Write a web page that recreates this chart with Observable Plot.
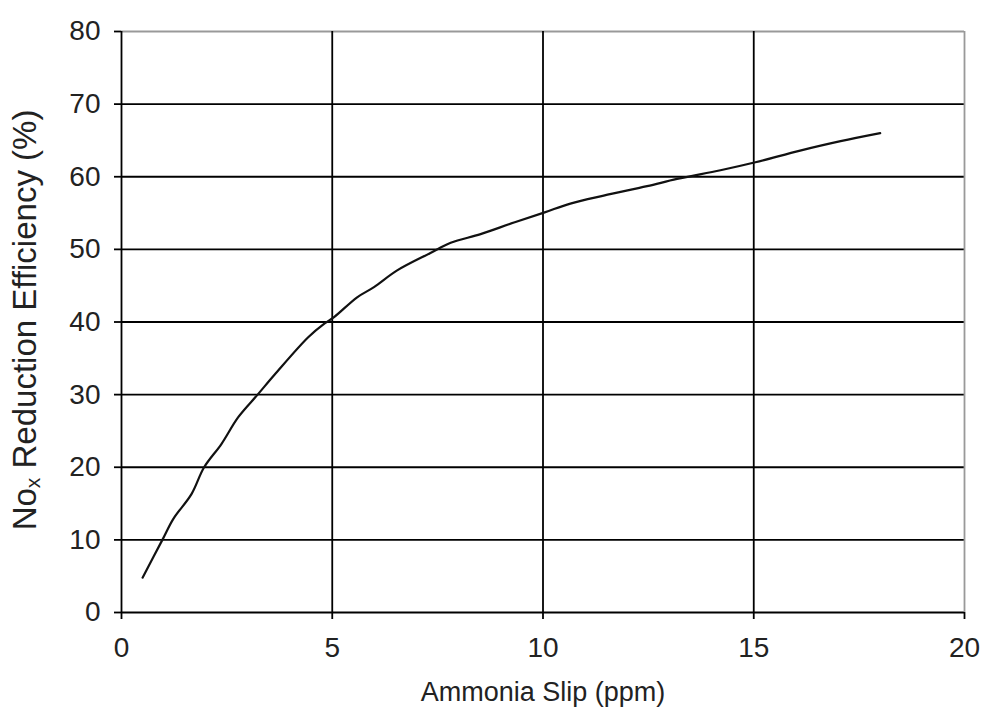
<!DOCTYPE html>
<html>
<head>
<meta charset="utf-8">
<script src="https://cdn.jsdelivr.net/npm/d3@7"></script>
<script src="https://cdn.jsdelivr.net/npm/@observablehq/plot@0.6"></script>
<style>
  html, body { margin: 0; padding: 0; background: #fff; }
  #chart { width: 982px; height: 707px; }
</style>
</head>
<body>
<div id="chart"></div>
<script>
// Data
const ammoniaSlip = [0.5, 0.97, 1.23, 1.66, 1.96, 2.37, 2.77, 3.23, 3.64, 4.43, 4.82, 5.05, 5.59, 5.99, 6.54, 7.33, 7.81, 8.52, 9.31, 10.04, 10.65, 11.44, 12.47, 13.18, 14.21, 15.04, 16.1, 17.06, 18.0];
const noxEfficiency = [4.8, 10, 12.9, 16.3, 20, 23.2, 26.9, 30, 32.8, 37.9, 39.8, 40.7, 43.4, 44.8, 47.1, 49.5, 50.9, 52.1, 53.7, 55.1, 56.3, 57.4, 58.7, 59.7, 60.9, 62.0, 63.6, 64.9, 66.0];
const xTicks = [0, 5, 10, 15, 20];
const yTicks = [0, 10, 20, 30, 40, 50, 60, 70, 80];
const xLabel = "Ammonia Slip (ppm)";
const yLabelParts = ["No", "x", " Reduction Efficiency (%)"];

const data = ammoniaSlip.map((x, i) => ({x, y: noxEfficiency[i]}));
const font = "'Liberation Sans', Arial, sans-serif";

const chart = Plot.plot({
  width: 982,
  height: 707,
  marginLeft: 121,
  marginRight: 18,
  marginTop: 31,
  marginBottom: 95,
  style: {fontFamily: font, color: "#222", background: "#fff"},
  x: {domain: [0, 20]},
  y: {domain: [0, 80]},
  marks: [
    Plot.ruleY(yTicks.filter(d => d < 80), {stroke: "#000", strokeWidth: 1.8}),
    Plot.ruleY([80], {stroke: "#999", strokeWidth: 1.8}),
    Plot.ruleX([5, 10, 15], {stroke: "#000", strokeWidth: 1.8}),
    Plot.ruleX([20], {stroke: "#999", strokeWidth: 1.8}),
    Plot.ruleX([0], {stroke: "#000", strokeWidth: 1.8}),
    Plot.axisY({ticks: yTicks, tickSize: 7, tickPadding: 14, fontSize: 28, label: null, strokeWidth: 1.8, stroke: "#000"}),
    Plot.axisX({ticks: xTicks, tickSize: 7, tickPadding: 18, fontSize: 28, label: null, strokeWidth: 1.8, stroke: "#000"}),
    Plot.line(data, {x: "x", y: "y", stroke: "#111", strokeWidth: 2.2, curve: "catmull-rom"}),
    Plot.text([xLabel], {frameAnchor: "bottom", dy: 88, lineAnchor: "bottom", fontSize: 27, fill: "#222"})
  ]
});

document.getElementById("chart").appendChild(chart);

// y-axis label with subscript
const svg = d3.select(chart.tagName.toLowerCase() === "svg" ? chart : chart.querySelector("svg"));
const t = svg.append("text")
  .attr("transform", "translate(36,320) rotate(-90)")
  .attr("text-anchor", "middle")
  .attr("font-family", font)
  .attr("font-size", 33)
  .attr("fill", "#222");
t.append("tspan").text(yLabelParts[0]);
t.append("tspan").attr("font-size", 21).attr("dy", 4).text(yLabelParts[1]);
t.append("tspan").attr("dy", -4).text(yLabelParts[2]);
</script>
</body>
</html>
